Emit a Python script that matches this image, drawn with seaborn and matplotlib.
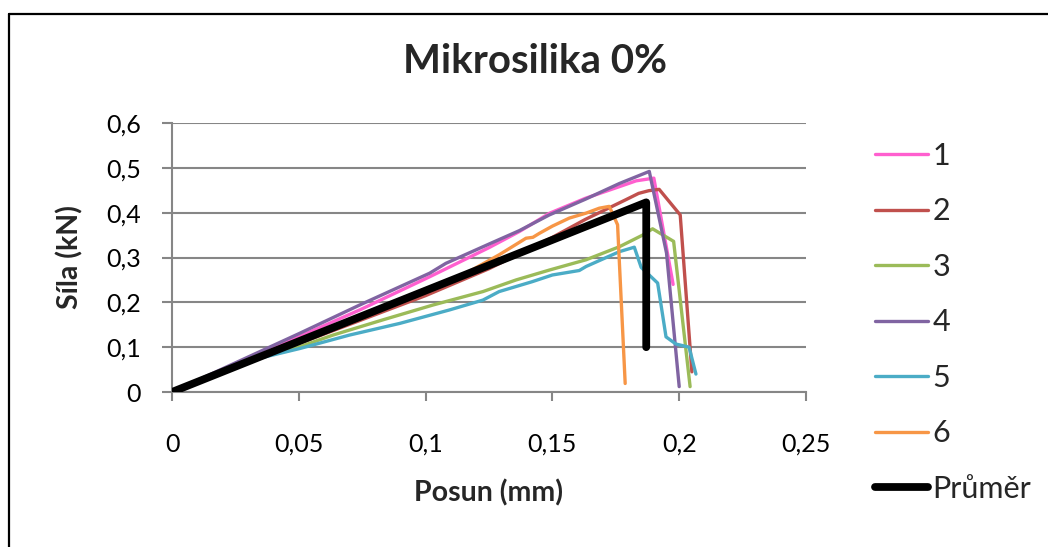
import matplotlib
matplotlib.use("Agg")
import matplotlib.pyplot as plt
from matplotlib.lines import Line2D
import seaborn as sns
import pandas as pd

# Load–displacement curves, Mikrosilika 0 %
x1 = [0, 0.05, 0.074, 0.1016, 0.125, 0.137, 0.149, 0.163, 0.1764, 0.183, 0.190, 0.1976]
y1 = [0, 0.123, 0.183, 0.257, 0.322, 0.358, 0.399, 0.432, 0.458, 0.471, 0.477, 0.24]

x2 = [0, 0.05, 0.1, 0.125, 0.15, 0.163, 0.179, 0.184, 0.188, 0.1921, 0.2004, 0.205]
y2 = [0, 0.108, 0.215, 0.275, 0.345, 0.385, 0.429, 0.443, 0.449, 0.452, 0.395, 0.045]

x3 = [0, 0.035, 0.0504, 0.0635, 0.0832, 0.1029, 0.1226, 0.1357, 0.1488, 0.1633,
      0.1764, 0.1856, 0.1895, 0.1978, 0.2043]
y3 = [0, 0.079, 0.101, 0.127, 0.161, 0.194, 0.224, 0.25, 0.272, 0.295,
      0.324, 0.35, 0.364, 0.336, 0.012]

x4 = [0, 0.05, 0.074, 0.1016, 0.108, 0.125, 0.137, 0.1488, 0.163, 0.1764, 0.1882, 0.195, 0.2]
y4 = [0, 0.13, 0.194, 0.265, 0.287, 0.33, 0.36, 0.395, 0.43, 0.465, 0.492, 0.31, 0.012]

x5 = [0, 0.035, 0.0504, 0.070, 0.0898, 0.1094, 0.1226, 0.129, 0.142, 0.150, 0.1606,
      0.1633, 0.1764, 0.1823, 0.185, 0.1915, 0.1948, 0.1987, 0.2039, 0.2066]
y5 = [0, 0.076, 0.097, 0.127, 0.153, 0.183, 0.205, 0.224, 0.246, 0.261, 0.271,
      0.280, 0.313, 0.323, 0.278, 0.243, 0.123, 0.107, 0.1, 0.04]

x6 = [0, 0.05, 0.1, 0.116, 0.129, 0.1396, 0.1423, 0.1449, 0.150, 0.1567, 0.1633,
      0.1685, 0.1724, 0.1734, 0.1757, 0.1787]
y6 = [0, 0.115, 0.23, 0.265, 0.306, 0.343, 0.345, 0.354, 0.370, 0.388, 0.399,
      0.410, 0.414, 0.402, 0.373, 0.019]

x_mean = [0, 0.187, 0.187]
y_mean = [0, 0.423, 0.1]

series_names = ["1", "2", "3", "4", "5", "6", "Průměr"]
series_x = [x1, x2, x3, x4, x5, x6, x_mean]
series_y = [y1, y2, y3, y4, y5, y6, y_mean]
series_colors = ["#FF5FCF", "#C0504D", "#9BBB59", "#8064A2", "#4BACC6", "#F79646", "#000000"]
series_widths = [2.4, 2.4, 2.4, 2.4, 2.4, 2.4, 5.6]

x_ticks = [0, 0.05, 0.1, 0.15, 0.2, 0.25]
x_tick_labels = ["0", "0,05", "0,1", "0,15", "0,2", "0,25"]
y_ticks = [0, 0.1, 0.2, 0.3, 0.4, 0.5, 0.6]
y_tick_labels = ["0", "0,1", "0,2", "0,3", "0,4", "0,5", "0,6"]

sns.set_theme(style="white")
plt.rcParams["font.family"] = ["Lato", "DejaVu Sans"]

W, H = 1048, 547
fig = plt.figure(figsize=(W / 100, H / 100), dpi=100)
ax = fig.add_axes([172 / W, 1 - 392 / H, (806 - 172) / W, (392 - 123) / H])

grid_col = "#868686"
for name, xs, ys, col, lw in zip(series_names, series_x, series_y, series_colors, series_widths):
    df = pd.DataFrame({"Posun": xs, "Síla": ys})
    sns.lineplot(data=df, x="Posun", y="Síla", ax=ax, color=col, linewidth=lw,
                 estimator=None, sort=False, label=name, zorder=3,
                 solid_capstyle="round", solid_joinstyle="round")

ax.set_xlim(0, 0.25)
ax.set_ylim(0, 0.6)
ax.set_xticks(x_ticks)
ax.set_xticklabels(x_tick_labels)
ax.set_yticks(y_ticks)
ax.set_yticklabels(y_tick_labels)
ax.yaxis.grid(True, color=grid_col, linewidth=1.5)
ax.xaxis.grid(False)
ax.set_axisbelow(True)

for side in ["top", "right"]:
    ax.spines[side].set_visible(False)
for side in ["left", "bottom"]:
    ax.spines[side].set_color(grid_col)
    ax.spines[side].set_linewidth(1.5)

ax.tick_params(axis="x", direction="out", length=6.5, width=1.5, color=grid_col,
               labelsize=18, labelcolor="black", pad=23, bottom=True)
ax.tick_params(axis="y", direction="out", length=7.5, width=1.5, color=grid_col,
               labelsize=18, labelcolor="black", pad=15, left=True)

ax.set_xlabel("Posun (mm)", fontsize=20.5, fontweight="bold", labelpad=17)
ax.set_ylabel("Síla (kN)", fontsize=20.5, fontweight="bold", labelpad=16)

fig.text(535 / W, 1 - 62 / H, "Mikrosilika 0%", ha="center", va="center",
         fontsize=29, fontweight="bold")

ax.get_legend().remove()
handles, labels = ax.get_legend_handles_labels()
fig.legend(handles, labels, loc="upper left", bbox_to_anchor=(875 / W, 1 - 142 / H),
           frameon=False, fontsize=22, handlelength=1.73, handletextpad=0.15,
           labelspacing=0.9, borderpad=0, borderaxespad=0)

# Outer chart frame
fig.add_artist(Line2D([9 / W, 9 / W], [0, 1 - 14 / H], transform=fig.transFigure,
                      color="black", linewidth=1.6))
fig.add_artist(Line2D([9 / W, 1], [1 - 14 / H, 1 - 14 / H], transform=fig.transFigure,
                      color="black", linewidth=1.6))

fig.savefig("out.png", dpi=100)
